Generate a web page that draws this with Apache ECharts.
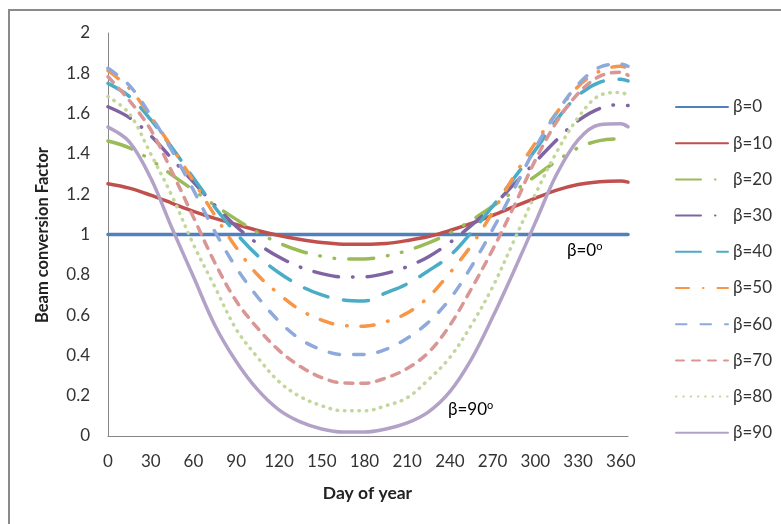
<!DOCTYPE html>
<html>
<head>
<meta charset="utf-8">
<script src="https://cdn.jsdelivr.net/npm/echarts@6/dist/echarts.min.js"></script>
<style>
html,body{margin:0;padding:0;background:#fff;}
#chart{width:781px;height:524px;}
</style>
</head>
<body>
<div id="chart"></div>
<script>
// ---- data ----
var days = [0,15,30,45,60,75,90,105,120,135,150,165,180,195,210,225,240,255,270,285,300,315,330,345,360,365];
var seriesNames = ['β=0','β=10','β=20','β=30','β=40','β=50','β=60','β=70','β=80','β=90'];
var b0  = [1,1,1,1,1,1,1,1,1,1,1,1,1,1,1,1,1,1,1,1,1,1,1,1,1,1];
var b10 = [1.252,1.23,1.195,1.155,1.115,1.08,1.05,1.02,0.995,0.975,0.96,0.952,0.951,0.955,0.97,0.99,1.02,1.055,1.095,1.138,1.18,1.22,1.248,1.262,1.265,1.26];
var b20 = [1.464,1.43,1.37,1.295,1.22,1.145,1.075,1.01,0.958,0.918,0.892,0.879,0.879,0.893,0.92,0.958,1.008,1.07,1.14,1.215,1.29,1.365,1.43,1.466,1.474,1.47];
var b30 = [1.634,1.58,1.49,1.375,1.26,1.145,1.04,0.955,0.888,0.838,0.806,0.789,0.79,0.807,0.84,0.89,0.96,1.045,1.14,1.25,1.36,1.47,1.565,1.625,1.645,1.64];
var b40 = [1.75,1.685,1.57,1.43,1.28,1.135,1.005,0.895,0.81,0.745,0.70,0.675,0.67,0.71,0.755,0.82,0.895,1.01,1.14,1.28,1.42,1.57,1.69,1.755,1.77,1.762];
var b50 = [1.813,1.725,1.585,1.43,1.265,1.095,0.935,0.80,0.705,0.625,0.575,0.548,0.545,0.567,0.61,0.69,0.81,0.945,1.11,1.29,1.455,1.605,1.735,1.81,1.835,1.825];
var b60 = [1.825,1.74,1.59,1.415,1.22,1.015,0.835,0.69,0.57,0.48,0.428,0.404,0.404,0.43,0.485,0.565,0.68,0.84,1.025,1.225,1.43,1.605,1.745,1.83,1.845,1.835];
var b70 = [1.783,1.665,1.52,1.31,1.085,0.86,0.67,0.535,0.425,0.345,0.29,0.263,0.262,0.288,0.335,0.415,0.55,0.73,0.925,1.14,1.37,1.56,1.70,1.785,1.805,1.79];
var b80 = [1.685,1.60,1.40,1.19,0.95,0.74,0.53,0.39,0.27,0.195,0.15,0.125,0.125,0.15,0.19,0.28,0.39,0.55,0.74,0.97,1.20,1.41,1.58,1.69,1.705,1.69];
var b90 = [1.533,1.46,1.28,1.03,0.79,0.55,0.37,0.23,0.13,0.07,0.035,0.02,0.02,0.035,0.065,0.12,0.22,0.38,0.59,0.82,1.06,1.30,1.47,1.545,1.55,1.535];
var xTicks = [0,30,60,90,120,150,180,210,240,270,300,330,360];
var yTicks = [0,0.2,0.4,0.6,0.8,1,1.2,1.4,1.6,1.8,2];

// ---- styles ----
var allValues = [b0,b10,b20,b30,b40,b50,b60,b70,b80,b90];
var colors = ['#4F81BD','#C0504D','#9BBB59','#8064A2','#4BACC6','#F79646','#8EA9DB','#D99694','#C3D69B','#B3A2C7'];
var dashes = [
  'solid','solid',
  [25,14,0.5,14,0.5,14],
  [25,14,0.5,14],
  [25,16],
  [13,14,0.5,14],
  [10.5,14],
  [8,8],
  [0.5,6.8],
  'solid'
];
var FONT = 'Lato, Carlito, "Open Sans", sans-serif';

var series = seriesNames.map(function(n,i){
  return {
    name: n,
    type: 'line',
    smooth: 0.35,
    symbol: 'none',
    data: days.map(function(d,k){ return [d, allValues[i][k]]; }),
    lineStyle: { color: colors[i], width: 3.5, type: dashes[i], cap: 'round', join: 'round' },
    itemStyle: { color: colors[i] },
    emphasis: { disabled: true },
    z: 2 + i
  };
});

var chart = echarts.init(document.getElementById('chart'), null, {renderer:'canvas'});
chart.setOption({
  animation: false,
  backgroundColor: '#ffffff',
  grid: { left: 108, right: 153, top: 33, bottom: 88, containLabel: false },
  xAxis: {
    type: 'value', min: 0, max: 365, interval: 30,
    axisLine: { show: true, lineStyle: { color: '#868686', width: 1 } },
    axisTick: { show: false },
    splitLine: { show: false },
    axisLabel: {
      margin: 17, fontSize: 17, color: '#333', fontFamily: FONT,
      formatter: function(v){ return xTicks.indexOf(v) >= 0 ? String(v) : ''; }
    }
  },
  yAxis: {
    type: 'value', min: 0, max: 2, interval: 0.2,
    axisLine: { show: true, lineStyle: { color: '#868686', width: 1 } },
    axisTick: { show: false },
    splitLine: { show: false },
    axisLabel: {
      margin: 18, fontSize: 17, color: '#333', fontFamily: FONT,
      formatter: function(v){
        for (var i=0;i<yTicks.length;i++){ if (Math.abs(yTicks[i]-v) < 1e-6) return String(yTicks[i]); }
        return '';
      }
    }
  },
  legend: {
    orient: 'vertical', left: 675, top: 97, padding: 0,
    itemWidth: 52, itemHeight: 20, itemGap: 16.2,
    data: seriesNames,
    itemStyle: { opacity: 0, borderWidth: 0 },
    textStyle: { fontSize: 17, color: '#333', fontFamily: FONT, lineHeight: 20 },
    selectedMode: false
  },
  graphic: [
    { type: 'rect', shape: { x: 9, y: 10, width: 1200, height: 1200 }, style: { fill: null, stroke: '#8a8a8a', lineWidth: 2 }, silent: true, z: 0 },
    { type: 'text', x: 367.5, y: 493,
      style: { text: 'Day of year', font: 'bold 17.5px ' + FONT, fill: '#222', align: 'center', verticalAlign: 'middle' } },
    { type: 'text', x: 43, y: 235, rotation: Math.PI/2,
      style: { text: 'Beam conversion Factor', font: 'bold 16.5px ' + FONT, fill: '#222', align: 'center', verticalAlign: 'middle' } },
    { type: 'text', x: 567, y: 251,
      style: { text: '{a|β=0}{s|o}', align: 'left', verticalAlign: 'middle',
        rich: { a: { fontSize: 17, fontFamily: FONT, color: '#222', lineHeight: 20 },
                s: { fontSize: 11, fontFamily: FONT, color: '#222', verticalAlign: 'top', lineHeight: 20, padding: [0,0,6,0] } } } },
    { type: 'text', x: 448, y: 410,
      style: { text: '{a|β=90}{s|o}', align: 'left', verticalAlign: 'middle',
        rich: { a: { fontSize: 17, fontFamily: FONT, color: '#222', lineHeight: 20 },
                s: { fontSize: 11, fontFamily: FONT, color: '#222', verticalAlign: 'top', lineHeight: 20, padding: [0,0,6,0] } } } }
  ],
  series: series
});
</script>
</body>
</html>
